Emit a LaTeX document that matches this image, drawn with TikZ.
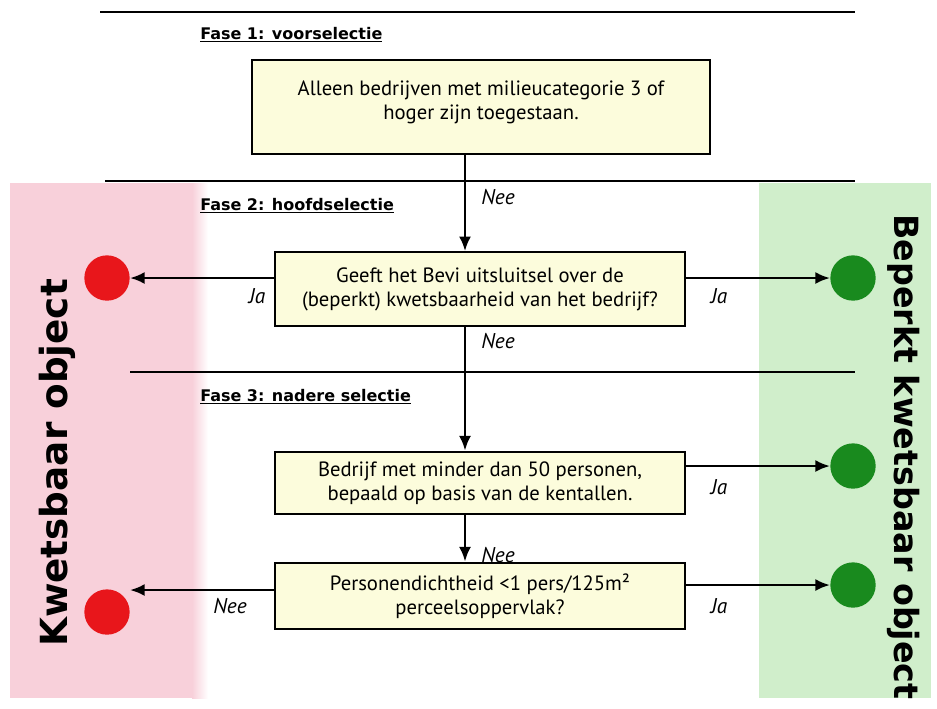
\documentclass[tikz,border=0pt]{standalone}
\usepackage{fontspec}
\setmainfont{PT Sans}
\newfontfamily\bigfont{DejaVu Sans}
\usetikzlibrary{arrows.meta,calc}
\definecolor{boxfill}{HTML}{FCFCDC}
\definecolor{pinkband}{HTML}{F8D0DA}
\definecolor{greenband}{HTML}{D0EECB}
\definecolor{redc}{HTML}{E8161B}
\definecolor{greenc}{HTML}{198A1E}
\begin{document}
\begin{tikzpicture}[x=0.75pt,y=-0.75pt,
  stepbox/.style={draw=black,line width=1.6pt,fill=boxfill,align=center,inner sep=0pt,font=\fontsize{15.5}{18}\selectfont},
  phase/.style={anchor=west,font=\bigfont\bfseries\fontsize{12}{14}\selectfont,inner sep=0pt},
  lbl/.style={font=\itshape\fontsize{16}{18}\selectfont,inner sep=0pt},
  sep/.style={line width=1.2pt},
  arr/.style={line width=2pt,-{Latex[length=11pt,width=9pt]}},
  dotr/.style={circle,fill=redc,minimum size=34pt,inner sep=0pt},
  dotg/.style={circle,fill=greenc,minimum size=34pt,inner sep=0pt}]
\useasboundingbox (0,0) rectangle (937,708);
\fill[white] (0,0) rectangle (937,708);
% bands
\fill[pinkband] (10,183) rectangle (192,698);
\shade[left color=pinkband,right color=white] (192,183) rectangle (208,698);
\fill[greenband] (759,183) rectangle (931,698);
% separator lines
\coordinate (l1a) at (100,12); \coordinate (l1b) at (855,12);
\coordinate (l2a) at (105,181); \coordinate (l2b) at (855,181);
\coordinate (l3a) at (130,372); \coordinate (l3b) at (855,372);
\draw[sep] (l1a) -- (l1b);
\draw[sep] (l2a) -- (l2b);
\draw[sep] (l3a) -- (l3b);
% phase labels
\node[phase] (f1) at (200,35) {\underline{Fase 1: voorselectie}};
\node[phase] (f2) at (200,206) {\underline{Fase 2: hoofdselectie}};
\node[phase] (f3) at (200,397) {\underline{Fase 3: nadere selectie}};
% boxes
\node[stepbox,minimum width=343pt,minimum height=71pt] (b1) at (481,107)
  {Alleen bedrijven met milieucategorie 3 of\\hoger zijn toegestaan.\\[-7pt]\mbox{}};
\node[stepbox,minimum width=307pt,minimum height=55pt] (b2) at (480,289)
  {Geeft het Bevi uitsluitsel over de\\(beperkt) kwetsbaarheid van het bedrijf?};
\node[stepbox,minimum width=307pt,minimum height=47pt] (b3) at (480,483)
  {Bedrijf met minder dan 50 personen,\\bepaald op basis van de kentallen.};
\node[stepbox,minimum width=307pt,minimum height=50pt] (b4) at (480,596)
  {Personendichtheid <1 pers/125m²\\perceelsoppervlak?};
% circles
\node[dotr] (r1) at (107,278) {};
\node[dotr] (r2) at (107,612) {};
\node[dotg] (g1) at (853,278) {};
\node[dotg] (g2) at (853,466) {};
\node[dotg] (g3) at (853,585) {};
% vertical arrows
\coordinate (ax) at (465,0);
\draw[arr] (b1.south -| ax) -- (b2.north -| ax);
\draw[arr] (b2.south -| ax) -- (b3.north -| ax);
\draw[arr] (b3.south -| ax) -- (b4.north -| ax);
% horizontal arrows
\draw[arr] (b2.west |- r1) -- (r1.east);
\draw[arr] (b2.east |- g1) -- (g1.west);
\draw[arr] (b3.east |- g2) -- (g2.west);
\draw[arr] (b4.east |- g3) -- (g3.west);
\coordinate (y4) at (0,590);
\draw[arr] (b4.west |- y4) -- (r2.east |- y4);
% labels
\node[lbl] (n1) at (498,197) {Nee};
\node[lbl] (n2) at (498,341) {Nee};
\node[lbl] (n3) at (498,555) {Nee};
\node[lbl] (n4) at (230,606) {Nee};
\node[lbl] (j1) at (257,296) {Ja};
\node[lbl] (j2) at (719,296) {Ja};
\node[lbl] (j3) at (719,487) {Ja};
\node[lbl] (j4) at (719,606) {Ja};
% side titles
\node[rotate=90,font=\bigfont\bfseries\fontsize{28}{30}\selectfont,inner sep=0pt] (kw) at (57,463) {Kwetsbaar object};
\node[rotate=-90,font=\bigfont\bfseries\fontsize{25}{28}\selectfont,inner sep=0pt] (bk) at (904,457) {Beperkt kwetsbaar object};
\end{tikzpicture}
\end{document}
